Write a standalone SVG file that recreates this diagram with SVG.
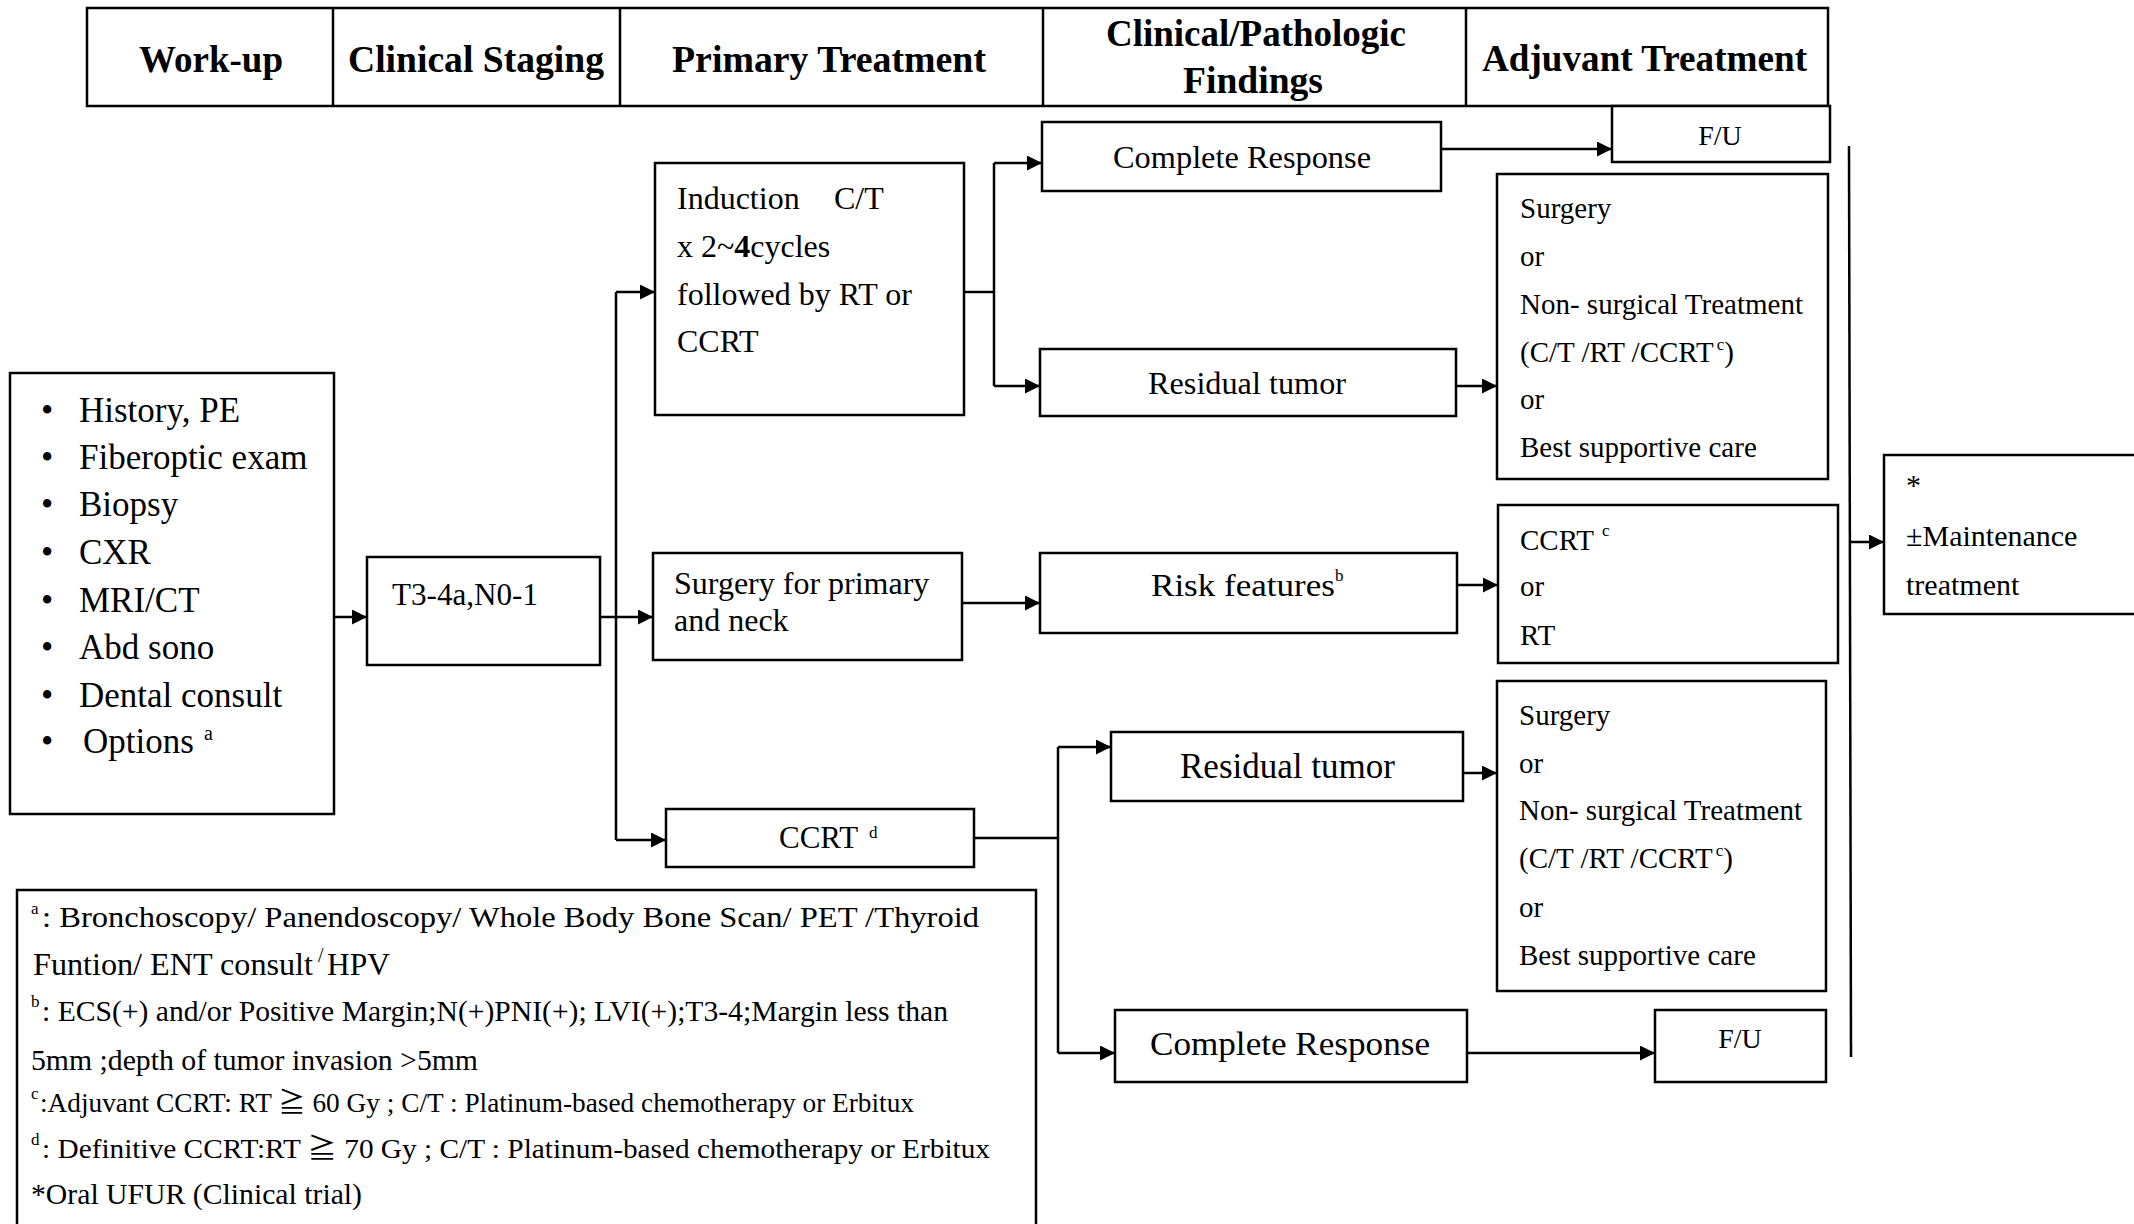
<svg xmlns="http://www.w3.org/2000/svg" width="2134" height="1224" viewBox="0 0 2134 1224">
  <style>
    .box { fill: #fff; stroke: #000; stroke-width: 2.5; }
    .hd { font-family: "Liberation Serif", "DejaVu Serif", serif; font-weight: bold; font-size: 38px; fill: #000; }
    .t { font-family: "Liberation Serif", "DejaVu Serif", "Noto Sans CJK JP", serif; fill: #000; }
    .f28 { font-size: 28px; }
    .f29 { font-size: 29px; }
    .f30 { font-size: 30px; }
    .f31 { font-size: 31px; }
    .f32 { font-size: 32px; }
    .f35 { font-size: 35px; }
    .sup { font-size: 17px; }
    .c { fill: none; stroke: #000; stroke-width: 2.5; }
  </style>
  <defs>
    <marker id="arrow" markerUnits="userSpaceOnUse" markerWidth="16" markerHeight="16" refX="15" refY="7.5" orient="auto">
      <path d="M0,0 L15,7.5 L0,15 z" fill="#000"/>
    </marker>
  </defs>

  <rect width="2134" height="1224" fill="#fff"/>

  <!-- column header strip -->
  <g id="header">
    <rect class="box" x="87" y="8" width="1741" height="98"/>
    <line class="c" x1="333" y1="8" x2="333" y2="106"/>
    <line class="c" x1="620" y1="8" x2="620" y2="106"/>
    <line class="c" x1="1043" y1="8" x2="1043" y2="106"/>
    <line class="c" x1="1466" y1="8" x2="1466" y2="106"/>
    <text class="hd" x="139" y="72" textLength="144" lengthAdjust="spacingAndGlyphs">Work-up</text>
    <text class="hd" x="348" y="72" textLength="256" lengthAdjust="spacingAndGlyphs">Clinical Staging</text>
    <text class="hd" x="672" y="72" textLength="314" lengthAdjust="spacingAndGlyphs">Primary Treatment</text>
    <text class="hd" x="1106" y="46" textLength="300" lengthAdjust="spacingAndGlyphs">Clinical/Pathologic</text>
    <text class="hd" x="1183" y="93" textLength="140" lengthAdjust="spacingAndGlyphs">Findings</text>
    <text class="hd" x="1482" y="71" textLength="325" lengthAdjust="spacingAndGlyphs">Adjuvant Treatment</text>
  </g>

  <!-- connectors -->
  <g id="connectors">
    <path class="c" d="M334,617 H367" marker-end="url(#arrow)"/>
    <path class="c" d="M600,617 H653" marker-end="url(#arrow)"/>
    <path class="c" d="M616,292 V840"/>
    <path class="c" d="M616,292 H655" marker-end="url(#arrow)"/>
    <path class="c" d="M616,840 H666" marker-end="url(#arrow)"/>
    <path class="c" d="M964,292 H994"/>
    <path class="c" d="M994,163 V386"/>
    <path class="c" d="M994,163 H1042" marker-end="url(#arrow)"/>
    <path class="c" d="M994,386 H1040" marker-end="url(#arrow)"/>
    <path class="c" d="M1441,149 H1612" marker-end="url(#arrow)"/>
    <path class="c" d="M1456,386 H1497" marker-end="url(#arrow)"/>
    <path class="c" d="M961,603 H1040" marker-end="url(#arrow)"/>
    <path class="c" d="M1457,585 H1498" marker-end="url(#arrow)"/>
    <path class="c" d="M974,838 H1058"/>
    <path class="c" d="M1058,747 V1053"/>
    <path class="c" d="M1058,747 H1111" marker-end="url(#arrow)"/>
    <path class="c" d="M1058,1053 H1115" marker-end="url(#arrow)"/>
    <path class="c" d="M1463,773 H1497" marker-end="url(#arrow)"/>
    <path class="c" d="M1467,1053 H1655" marker-end="url(#arrow)"/>
    <path class="c" d="M1849,146 L1851,1057"/>
    <path class="c" d="M1849,542 H1884" marker-end="url(#arrow)"/>
  </g>

  <!-- work-up checklist -->
  <g id="workup">
    <rect class="box" x="10" y="373" width="324" height="441"/>
    <g class="t f35">
      <text x="41" y="422">•</text><text x="79" y="422">History, PE</text>
      <text x="41" y="469">•</text><text x="79" y="469">Fiberoptic exam</text>
      <text x="41" y="516">•</text><text x="79" y="516">Biopsy</text>
      <text x="41" y="564">•</text><text x="79" y="564">CXR</text>
      <text x="41" y="612">•</text><text x="79" y="612">MRI/CT</text>
      <text x="41" y="659">•</text><text x="79" y="659">Abd sono</text>
      <text x="41" y="707">•</text><text x="79" y="707">Dental consult</text>
      <text x="41" y="753">•</text><text x="83" y="753">Options</text>
    </g>
    <text class="t" x="204" y="740" font-size="20">a</text>
  </g>

  <g id="staging">
    <rect class="box" x="367" y="557" width="233" height="108"/>
    <text class="t f31" x="392" y="605" textLength="146" lengthAdjust="spacingAndGlyphs">T3-4a,N0-1</text>
  </g>

  <g id="induction">
    <rect class="box" x="655" y="163" width="309" height="252"/>
    <text class="t f32" x="677" y="209">Induction</text>
    <text class="t f32" x="834" y="209">C/T</text>
    <text class="t f32" x="677" y="257">x 2~<tspan font-weight="bold">4</tspan>cycles</text>
    <text class="t f32" x="677" y="305">followed by RT or</text>
    <text class="t f32" x="677" y="352">CCRT</text>
  </g>

  <g id="surgery">
    <rect class="box" x="653" y="553" width="309" height="107"/>
    <text class="t f32" x="674" y="594">Surgery for primary</text>
    <text class="t f32" x="674" y="631">and neck</text>
  </g>

  <g id="ccrt">
    <rect class="box" x="666" y="809" width="308" height="58"/>
    <text class="t f31" x="779" y="848">CCRT</text>
    <text class="t sup" x="869" y="838">d</text>
  </g>

  <g id="complete-response-1">
    <rect class="box" x="1042" y="122" width="399" height="69"/>
    <text class="t f31" x="1113" y="168" textLength="258" lengthAdjust="spacingAndGlyphs">Complete Response</text>
  </g>

  <g id="residual-tumor-1">
    <rect class="box" x="1040" y="349" width="416" height="67"/>
    <text class="t f32" x="1148" y="394" textLength="198" lengthAdjust="spacingAndGlyphs">Residual tumor</text>
  </g>

  <g id="risk-features">
    <rect class="box" x="1040" y="553" width="417" height="80"/>
    <text class="t f32" x="1151" y="596" textLength="184" lengthAdjust="spacingAndGlyphs">Risk features</text>
    <text class="t sup" x="1335" y="581">b</text>
  </g>

  <g id="residual-tumor-2">
    <rect class="box" x="1111" y="732" width="352" height="69"/>
    <text class="t f35" x="1180" y="778" textLength="215" lengthAdjust="spacingAndGlyphs">Residual tumor</text>
  </g>

  <g id="complete-response-2">
    <rect class="box" x="1115" y="1010" width="352" height="72"/>
    <text class="t" font-size="33" x="1150" y="1055" textLength="280" lengthAdjust="spacingAndGlyphs">Complete Response</text>
  </g>

  <g id="fu-1">
    <rect class="box" x="1612" y="106" width="218" height="56"/>
    <text class="t f28" x="1720" y="145" text-anchor="middle">F/U</text>
  </g>

  <g id="salvage-1">
    <rect class="box" x="1497" y="174" width="331" height="305"/>
    <g class="t f29">
      <text x="1520" y="218">Surgery</text>
      <text x="1520" y="266">or</text>
      <text x="1520" y="314">Non- surgical Treatment</text>
      <text x="1520" y="362">(C/T /RT /CCRT<tspan class="sup" dx="3" dy="-12">c</tspan><tspan dy="12">)</tspan></text>
      <text x="1520" y="409">or</text>
      <text x="1520" y="457">Best supportive care</text>
    </g>
  </g>

  <g id="adjuvant-ccrt">
    <rect class="box" x="1498" y="505" width="340" height="158"/>
    <g class="t f29">
      <text x="1520" y="550">CCRT</text>
      <text x="1520" y="596">or</text>
      <text x="1520" y="645">RT</text>
    </g>
    <text class="t sup" x="1602" y="536" font-size="15">c</text>
  </g>

  <g id="salvage-2">
    <rect class="box" x="1497" y="681" width="329" height="310"/>
    <g class="t f29">
      <text x="1519" y="725">Surgery</text>
      <text x="1519" y="773">or</text>
      <text x="1519" y="820">Non- surgical Treatment</text>
      <text x="1519" y="868">(C/T /RT /CCRT<tspan class="sup" dx="3" dy="-12">c</tspan><tspan dy="12">)</tspan></text>
      <text x="1519" y="917">or</text>
      <text x="1519" y="965">Best supportive care</text>
    </g>
  </g>

  <g id="fu-2">
    <rect class="box" x="1655" y="1010" width="171" height="72"/>
    <text class="t f28" x="1740" y="1048" text-anchor="middle">F/U</text>
  </g>

  <g id="maintenance">
    <rect class="box" x="1884" y="455" width="260" height="159"/>
    <g class="t f30">
      <text x="1906" y="495">*</text>
      <text x="1906" y="546">±Maintenance</text>
      <text x="1906" y="595">treatment</text>
    </g>
  </g>

  <!-- footnotes -->
  <g id="footnotes">
    <rect class="box" x="17" y="890" width="1019" height="345"/>
    <text class="t sup" x="31" y="914">a</text>
    <text class="t f30" x="42" y="927" textLength="937" lengthAdjust="spacingAndGlyphs">: Bronchoscopy/ Panendoscopy/ Whole Body Bone Scan/ PET /Thyroid</text>
    <text class="t f31" x="33" y="975" textLength="280" lengthAdjust="spacingAndGlyphs">Funtion/ ENT consult</text>
    <text class="t" x="318" y="962" font-size="20">/</text>
    <text class="t f31" x="327" y="975" textLength="63" lengthAdjust="spacingAndGlyphs">HPV</text>
    <text class="t sup" x="31" y="1007">b</text>
    <text class="t f30" x="42" y="1021" textLength="906" lengthAdjust="spacingAndGlyphs">: ECS(+) and/or Positive Margin;N(+)PNI(+); LVI(+);T3-4;Margin less than</text>
    <text class="t f30" x="31" y="1070" textLength="447" lengthAdjust="spacingAndGlyphs">5mm ;depth of tumor invasion &gt;5mm</text>
    <text class="t sup" x="31" y="1099">c</text>
    <text class="t" font-size="27" x="40" y="1112" textLength="874" lengthAdjust="spacingAndGlyphs">:Adjuvant CCRT: RT ≧ 60 Gy ; C/T : Platinum-based chemotherapy or Erbitux</text>
    <text class="t sup" x="31" y="1145">d</text>
    <text class="t" font-size="27" x="42" y="1158" textLength="948" lengthAdjust="spacingAndGlyphs">: Definitive CCRT:RT ≧ 70 Gy ; C/T : Platinum-based chemotherapy or Erbitux</text>
    <text class="t f30" x="31" y="1204" textLength="331" lengthAdjust="spacingAndGlyphs">*Oral UFUR (Clinical trial)</text>
  </g>
</svg>
